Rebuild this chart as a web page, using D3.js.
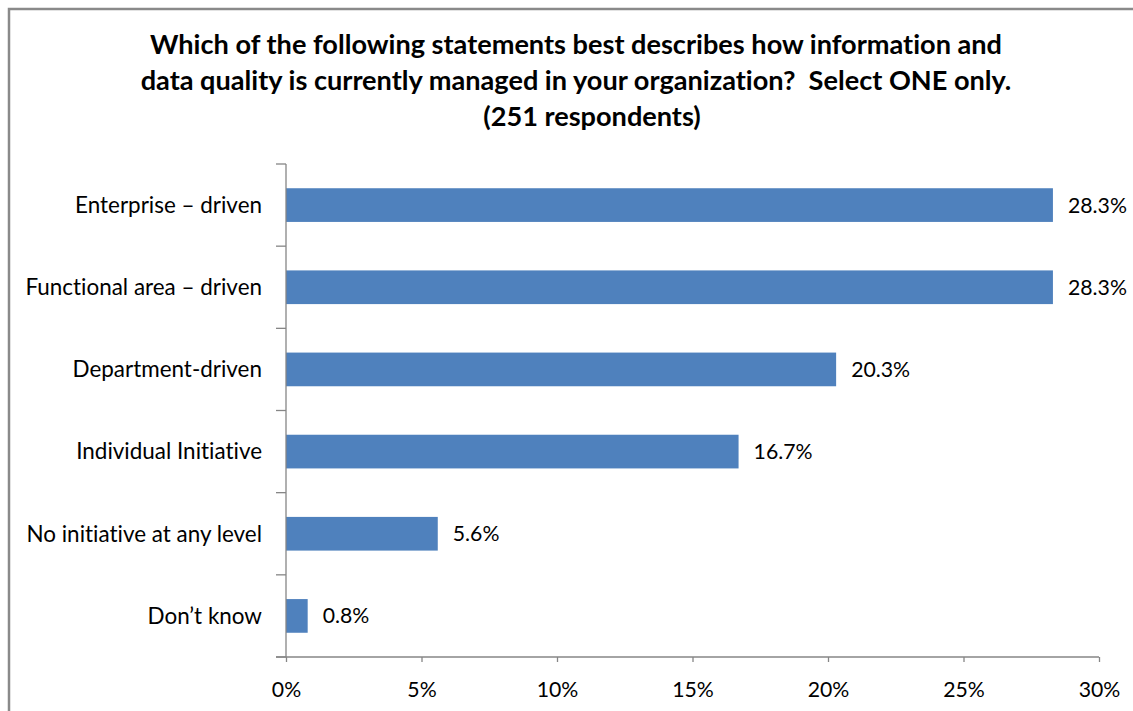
<!DOCTYPE html>
<html>
<head>
<meta charset="utf-8">
<script src="https://cdn.jsdelivr.net/npm/d3@7"></script>
<style>
  html, body { margin: 0; padding: 0; background: #fff; }
  svg { display: block; }
  text {
    font-family: Lato, "Open Sans", sans-serif;
    fill: #000;
    white-space: pre;
    font-variant-ligatures: none;
    font-feature-settings: "liga" 0, "clig" 0;
  }
</style>
</head>
<body>
<svg id="chart" width="1133" height="711"></svg>
<script>
// Survey responses: how information and data quality is managed
const categories = [
  "Enterprise \u2013 driven",
  "Functional area \u2013 driven",
  "Department-driven",
  "Individual Initiative",
  "No initiative at any level",
  "Don\u2019t know"
];
const shares = [28.3, 28.3, 20.3, 16.7, 5.6, 0.8];
const xTicks = [0, 5, 10, 15, 20, 25, 30];
const titleLines = [
  "Which of the following statements best describes how information and",
  "data quality is currently managed in your organization?  Select ONE only.",
  "(251 respondents)"
];

const svg = d3.select("#chart");
const W = 1133, H = 711;
const margin = { left: 286, right: 34, top: 164, bottom: 54 };
const axisColor = "#868686";
const barColor = "#4F81BD";

// Frame around the chart area
svg.append("path")
  .attr("d", `M9,${H + 5} L9,9 L${W + 5},9`)
  .attr("fill", "none")
  .attr("stroke", "#8a8a8a")
  .attr("stroke-width", 2.5);

// Scale font size so a text element spans the given width
function fitWidth(sel, target) {
  const node = sel.node();
  const base = parseFloat(sel.attr("font-size"));
  const len = node.getComputedTextLength();
  sel.attr("font-size", (base * target / len).toFixed(2));
  return base * target / len;
}

// Title
const titleG = svg.append("g");
const t1 = titleG.append("text")
  .attr("x", 576).attr("y", 54)
  .attr("text-anchor", "middle")
  .attr("font-weight", "bold")
  .attr("font-size", 22)
  .text(titleLines[0]);
const titleSize = fitWidth(t1, 852);
titleLines.slice(1).forEach((line, i) => {
  titleG.append("text")
    .attr("x", i === 1 ? 592 : 576)
    .attr("y", 54 + 36 * (i + 1))
    .attr("text-anchor", "middle")
    .attr("font-weight", "bold")
    .attr("font-size", titleSize.toFixed(2))
    .text(line);
});

const x = d3.scaleLinear()
  .domain([0, 30])
  .range([margin.left, W - margin.right]);

const y = d3.scaleBand()
  .domain(categories)
  .range([margin.top, H - margin.bottom])
  .padding(0);

const barH = y.bandwidth() * 0.41;

// Bars
svg.append("g").selectAll("rect")
  .data(categories)
  .join("rect")
  .attr("x", x(0))
  .attr("y", d => y(d) + (y.bandwidth() - barH) / 2)
  .attr("width", (d, i) => x(shares[i]) - x(0))
  .attr("height", barH)
  .attr("fill", barColor);

// Value labels
const labelSize = 18;
const valLabels = svg.append("g").selectAll("text")
  .data(categories)
  .join("text")
  .attr("x", (d, i) => x(shares[i]) + 15)
  .attr("y", d => y(d) + y.bandwidth() / 2)
  .attr("dy", "0.35em")
  .attr("font-size", labelSize)
  .text((d, i) => shares[i].toFixed(1) + "%");
const valSize = fitWidth(d3.select(valLabels.nodes()[0]), 59);
valLabels.attr("font-size", valSize.toFixed(2));

// Category axis (left)
const yAxis = svg.append("g")
  .attr("transform", `translate(${margin.left},0)`);
yAxis.append("line")
  .attr("x1", 0).attr("x2", 0)
  .attr("y1", margin.top).attr("y2", H - margin.bottom)
  .attr("stroke", axisColor).attr("stroke-width", 1.3);
const bounds = categories.map(d => y(d)).concat([y(categories[categories.length - 1]) + y.step()]);
yAxis.selectAll("line.tick")
  .data(bounds)
  .join("line")
  .attr("class", "tick")
  .attr("x1", -10).attr("x2", 0)
  .attr("y1", d => d).attr("y2", d => d)
  .attr("stroke", axisColor).attr("stroke-width", 1.3);
const catLabels = yAxis.selectAll("text")
  .data(categories)
  .join("text")
  .attr("x", -24)
  .attr("y", d => y(d) + y.bandwidth() / 2)
  .attr("dy", "0.35em")
  .attr("text-anchor", "end")
  .attr("font-size", labelSize)
  .text(d => d);
const catSize = fitWidth(d3.select(catLabels.nodes()[0]), 187);
catLabels.attr("font-size", catSize.toFixed(2));

// Value axis (bottom)
const xAxis = d3.axisBottom(x)
  .tickValues(xTicks)
  .tickFormat(d => d + "%")
  .tickSize(5)
  .tickPadding(20);
const xg = svg.append("g")
  .attr("transform", `translate(0,${H - margin.bottom})`)
  .call(xAxis);
xg.select(".domain").remove();
xg.append("line")
  .attr("x1", margin.left - 10).attr("x2", x(30))
  .attr("y1", 0).attr("y2", 0)
  .attr("stroke", axisColor).attr("stroke-width", 1.3);
xg.selectAll(".tick line").attr("stroke", axisColor).attr("stroke-width", 1.3);
xg.selectAll(".tick text")
  .attr("font-family", "Lato, 'Open Sans', sans-serif")
  .attr("font-size", valSize.toFixed(2))
  .attr("fill", "#000");
</script>
</body>
</html>
